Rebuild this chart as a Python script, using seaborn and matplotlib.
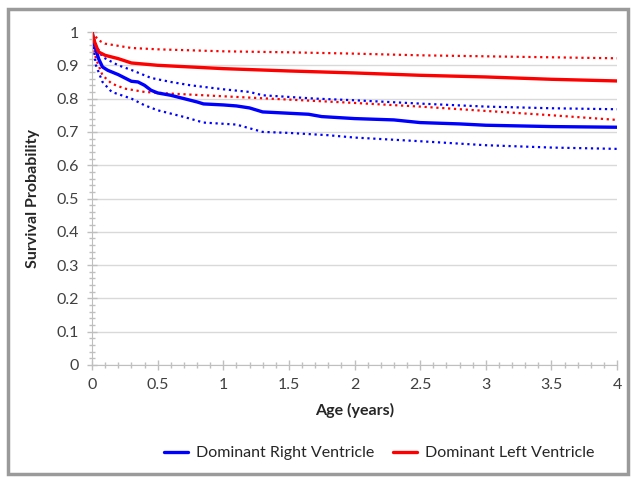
import numpy as np
import pandas as pd
import matplotlib.pyplot as plt
import seaborn as sns
from matplotlib.patches import Rectangle
from matplotlib.ticker import MultipleLocator

# Kaplan-Meier estimates
rv_age = [0, 0.02, 0.05, 0.08, 0.12, 0.2, 0.25, 0.3, 0.35, 0.4, 0.45, 0.5, 0.6, 0.7,
          0.8, 0.85, 1.0, 1.1, 1.2, 1.3, 1.5, 1.65, 1.75, 2.0, 2.3, 2.5, 2.8, 3.0, 3.5, 4.0]
rv_surv = [1.0, 0.96, 0.92, 0.895, 0.885, 0.872, 0.862, 0.852, 0.85, 0.84, 0.825, 0.817, 0.81, 0.80,
           0.79, 0.784, 0.781, 0.778, 0.772, 0.76, 0.756, 0.753, 0.746, 0.74, 0.736, 0.728, 0.724, 0.72, 0.716, 0.714]

rv_hi_age = [0, 0.03, 0.08, 0.2, 0.3, 0.45, 0.6, 0.75, 1.0, 1.2, 1.3, 1.5, 1.7, 2.0, 2.5, 3.0, 3.5, 4.0]
rv_hi = [1.0, 0.96, 0.925, 0.90, 0.886, 0.862, 0.85, 0.84, 0.828, 0.82, 0.81, 0.805, 0.80, 0.795,
         0.785, 0.776, 0.771, 0.768]

rv_lo_age = [0, 0.03, 0.08, 0.15, 0.3, 0.4, 0.5, 0.6, 0.7, 0.85, 1.1, 1.3, 1.5, 1.8, 2.0, 2.5, 3.0, 3.5, 4.0]
rv_lo = [0.99, 0.90, 0.85, 0.82, 0.80, 0.78, 0.765, 0.755, 0.745, 0.728, 0.722, 0.70, 0.697, 0.69,
         0.683, 0.672, 0.66, 0.653, 0.649]

lv_age = [0, 0.02, 0.05, 0.1, 0.2, 0.3, 0.5, 1.0, 1.5, 2.0, 2.5, 3.0, 3.5, 4.0]
lv_surv = [1.0, 0.97, 0.94, 0.93, 0.92, 0.907, 0.90, 0.89, 0.883, 0.877, 0.87, 0.865, 0.858, 0.853]

lv_hi_age = [0, 0.05, 0.1, 0.3, 0.5, 1.0, 1.5, 2.0, 2.5, 3.0, 3.5, 4.0]
lv_hi = [1.0, 0.975, 0.965, 0.952, 0.948, 0.942, 0.939, 0.935, 0.93, 0.927, 0.924, 0.921]

lv_lo_age = [0, 0.03, 0.08, 0.15, 0.25, 0.4, 0.6, 1.0, 1.5, 2.0, 2.5, 3.0, 3.5, 4.0]
lv_lo = [0.98, 0.92, 0.87, 0.845, 0.83, 0.82, 0.815, 0.807, 0.797, 0.787, 0.776, 0.763, 0.75, 0.736]

sns.set_style("white")
plt.rcParams['font.family'] = ['Lato', 'DejaVu Sans']

fig = plt.figure(figsize=(6.34, 4.79), dpi=100)
ax = fig.add_axes([92 / 634, 1 - 365 / 479, 525 / 634, 333 / 479])

blue = '#0000ff'
red = '#ff0000'

sns.lineplot(x=rv_hi_age, y=rv_hi, ax=ax, color=blue, linestyle=':', linewidth=1.6)
sns.lineplot(x=rv_lo_age, y=rv_lo, ax=ax, color=blue, linestyle=':', linewidth=1.6)
sns.lineplot(x=lv_hi_age, y=lv_hi, ax=ax, color=red, linestyle=':', linewidth=1.6)
sns.lineplot(x=lv_lo_age, y=lv_lo, ax=ax, color=red, linestyle=':', linewidth=1.6)
sns.lineplot(x=rv_age, y=rv_surv, ax=ax, color=blue, linewidth=2.4, label='Dominant Right Ventricle')
sns.lineplot(x=lv_age, y=lv_surv, ax=ax, color=red, linewidth=2.4, label='Dominant Left Ventricle')

ax.set_xlim(0, 4)
ax.set_ylim(0, 1)
ax.xaxis.set_major_locator(MultipleLocator(0.5))
ax.xaxis.set_minor_locator(MultipleLocator(0.1))
ax.yaxis.set_major_locator(MultipleLocator(0.1))
ax.yaxis.set_minor_locator(MultipleLocator(0.02))
ax.set_xticks(np.arange(0, 4.01, 0.5))
ax.set_xticklabels(['0', '0.5', '1', '1.5', '2', '2.5', '3', '3.5', '4'])
ax.set_yticks(np.arange(0, 1.01, 0.1))
ax.set_yticklabels(['0', '0.1', '0.2', '0.3', '0.4', '0.5', '0.6', '0.7', '0.8', '0.9', '1'])

ax.grid(axis='y', color='#d9d9d9', linewidth=1)
ax.grid(axis='x', visible=False)
for side in ['top', 'right']:
    ax.spines[side].set_visible(False)
for side in ['left', 'bottom']:
    ax.spines[side].set_color('#bfbfbf')
ax.tick_params(which='major', direction='inout', length=7, color='#bfbfbf', width=1,
               labelsize=11.5, labelcolor='#404040', left=True, bottom=True, pad=6)
ax.tick_params(which='minor', direction='inout', length=5, color='#bfbfbf', width=1,
               left=True, bottom=True)

ax.set_xlabel('Age (years)', fontsize=11.5, fontweight='bold', labelpad=8)
ax.set_ylabel('Survival Probability', fontsize=11.5, fontweight='bold', labelpad=12)

ax.legend(loc='upper center', bbox_to_anchor=(0.547, -0.2), ncol=2, frameon=False,
          fontsize=11.5, handlelength=1.5, columnspacing=1.2, handletextpad=0.5)

fig.patches.append(Rectangle((8 / 634, 5 / 479), 620 / 634, 465 / 479, transform=fig.transFigure,
                             fill=False, edgecolor='#9a9a9a', linewidth=2.5))

plt.savefig('out.png', dpi=100)
